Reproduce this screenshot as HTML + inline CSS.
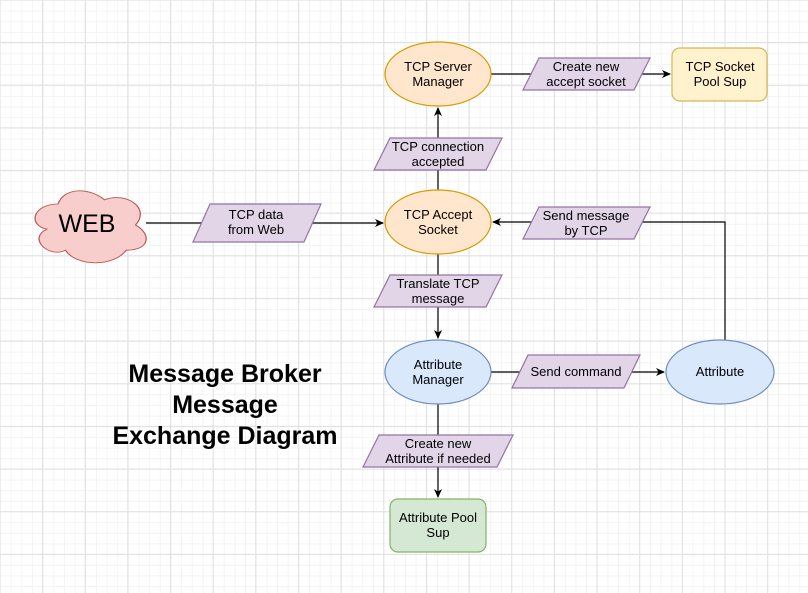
<!DOCTYPE html>
<html><head><meta charset="utf-8"><style>
html,body{margin:0;padding:0;background:#fff;}
body{width:808px;height:593px;overflow:hidden;
background-image:
linear-gradient(#e0e0e0 1px,transparent 1px),linear-gradient(90deg,#e0e0e0 1px,transparent 1px),
linear-gradient(#f3f3f3 1px,transparent 1px),linear-gradient(90deg,#f3f3f3 1px,transparent 1px);
background-size:42.67px 42.67px,42.67px 42.67px,10.67px 10.67px,10.67px 10.67px;
background-position:0 42px,42px 0,0 0,0 0;}
svg{position:absolute;left:0;top:0;}
text{font-family:"Liberation Sans",Arial,sans-serif;font-size:13px;fill:#000;}
</style></head><body>
<svg width="808" height="593" viewBox="0 0 808 593">
<defs><marker id="a" markerWidth="10" markerHeight="10" refX="8" refY="5" orient="auto" markerUnits="userSpaceOnUse"><path d="M0,1 L9,5 L0,9 L2.5,5 Z" fill="#000"/></marker></defs>
<g stroke="#000" stroke-width="1.2" fill="none">
<line x1="146" y1="223" x2="383" y2="223" marker-end="url(#a)"/>
<line x1="438" y1="191" x2="438" y2="108" marker-end="url(#a)"/>
<line x1="491" y1="74" x2="670" y2="74" marker-end="url(#a)"/>
<polyline points="725,340 725,222 493,222" marker-end="url(#a)"/>
<line x1="438" y1="254" x2="438" y2="338" marker-end="url(#a)"/>
<line x1="491" y1="372" x2="664" y2="372" marker-end="url(#a)"/>
<line x1="438" y1="404" x2="438" y2="497" marker-end="url(#a)"/>
</g>
<path transform="translate(27,183) scale(124,84)" d="M0.25,0.25 C0.05,0.25 0,0.5 0.16,0.55 C0,0.66 0.18,0.9 0.31,0.8 C0.4,1 0.7,1 0.8,0.8 C1,0.8 1,0.6 0.875,0.5 C1,0.3 0.8,0.1 0.625,0.2 C0.5,0.05 0.3,0.05 0.25,0.25 Z" fill="#f8cecc" stroke="#b85450" stroke-width="0.01"/>
<text x="87" y="232" text-anchor="middle" style="font-size:25px">WEB</text>
<g stroke-width="1.2">
<ellipse cx="438" cy="74" rx="53" ry="32" fill="#ffe6cc" stroke="#d79b00"/>
<ellipse cx="438" cy="222" rx="53" ry="32" fill="#ffe6cc" stroke="#d79b00"/>
<ellipse cx="438" cy="372" rx="53" ry="32" fill="#dae8fc" stroke="#6c8ebf"/>
<ellipse cx="720" cy="372" rx="54" ry="32" fill="#dae8fc" stroke="#6c8ebf"/>
<rect x="672" y="48" width="95" height="53" rx="8" fill="#fff2cc" stroke="#d6b656"/>
<rect x="390" y="499" width="96" height="53" rx="8" fill="#d5e8d4" stroke="#82b366"/>
<g fill="#e1d5e7" stroke="#9673a6">
<polygon points="539,58 650,58 634,90 523,90"/>
<polygon points="390,138 502,138 486,170 374,170"/>
<polygon points="210,204 321,204 304,242 193,242"/>
<polygon points="539,207 650,207 634,239 523,239"/>
<polygon points="390,275 502,275 486,307 374,307"/>
<polygon points="528,355 640,355 624,388 512,388"/>
<polygon points="379,435 513,435 497,467 363,467"/>
</g></g>
<g text-anchor="middle">
<text x="438" y="71">TCP Server</text><text x="438" y="86">Manager</text>
<text x="438" y="219">TCP Accept</text><text x="438" y="234">Socket</text>
<text x="438" y="369">Attribute</text><text x="438" y="384">Manager</text>
<text x="720" y="376">Attribute</text>
<text x="720" y="71">TCP Socket</text><text x="720" y="86">Pool Sup</text>
<text x="438" y="522">Attribute Pool</text><text x="438" y="537">Sup</text>
<text x="586" y="71">Create new</text><text x="586" y="86">accept socket</text>
<text x="438" y="151">TCP connection</text><text x="438" y="166">accepted</text>
<text x="256" y="219">TCP data</text><text x="256" y="234">from Web</text>
<text x="586" y="220">Send message</text><text x="586" y="235">by TCP</text>
<text x="438" y="288">Translate TCP</text><text x="438" y="303">message</text>
<text x="576" y="376">Send command</text>
<text x="438" y="448">Create new</text><text x="438" y="463">Attribute if needed</text>
<text x="225" y="382" style="font-size:25px;font-weight:bold">Message Broker</text>
<text x="225" y="413" style="font-size:25px;font-weight:bold">Message</text>
<text x="225" y="444" style="font-size:25px;font-weight:bold">Exchange Diagram</text>
</g>
</svg>
</body></html>
